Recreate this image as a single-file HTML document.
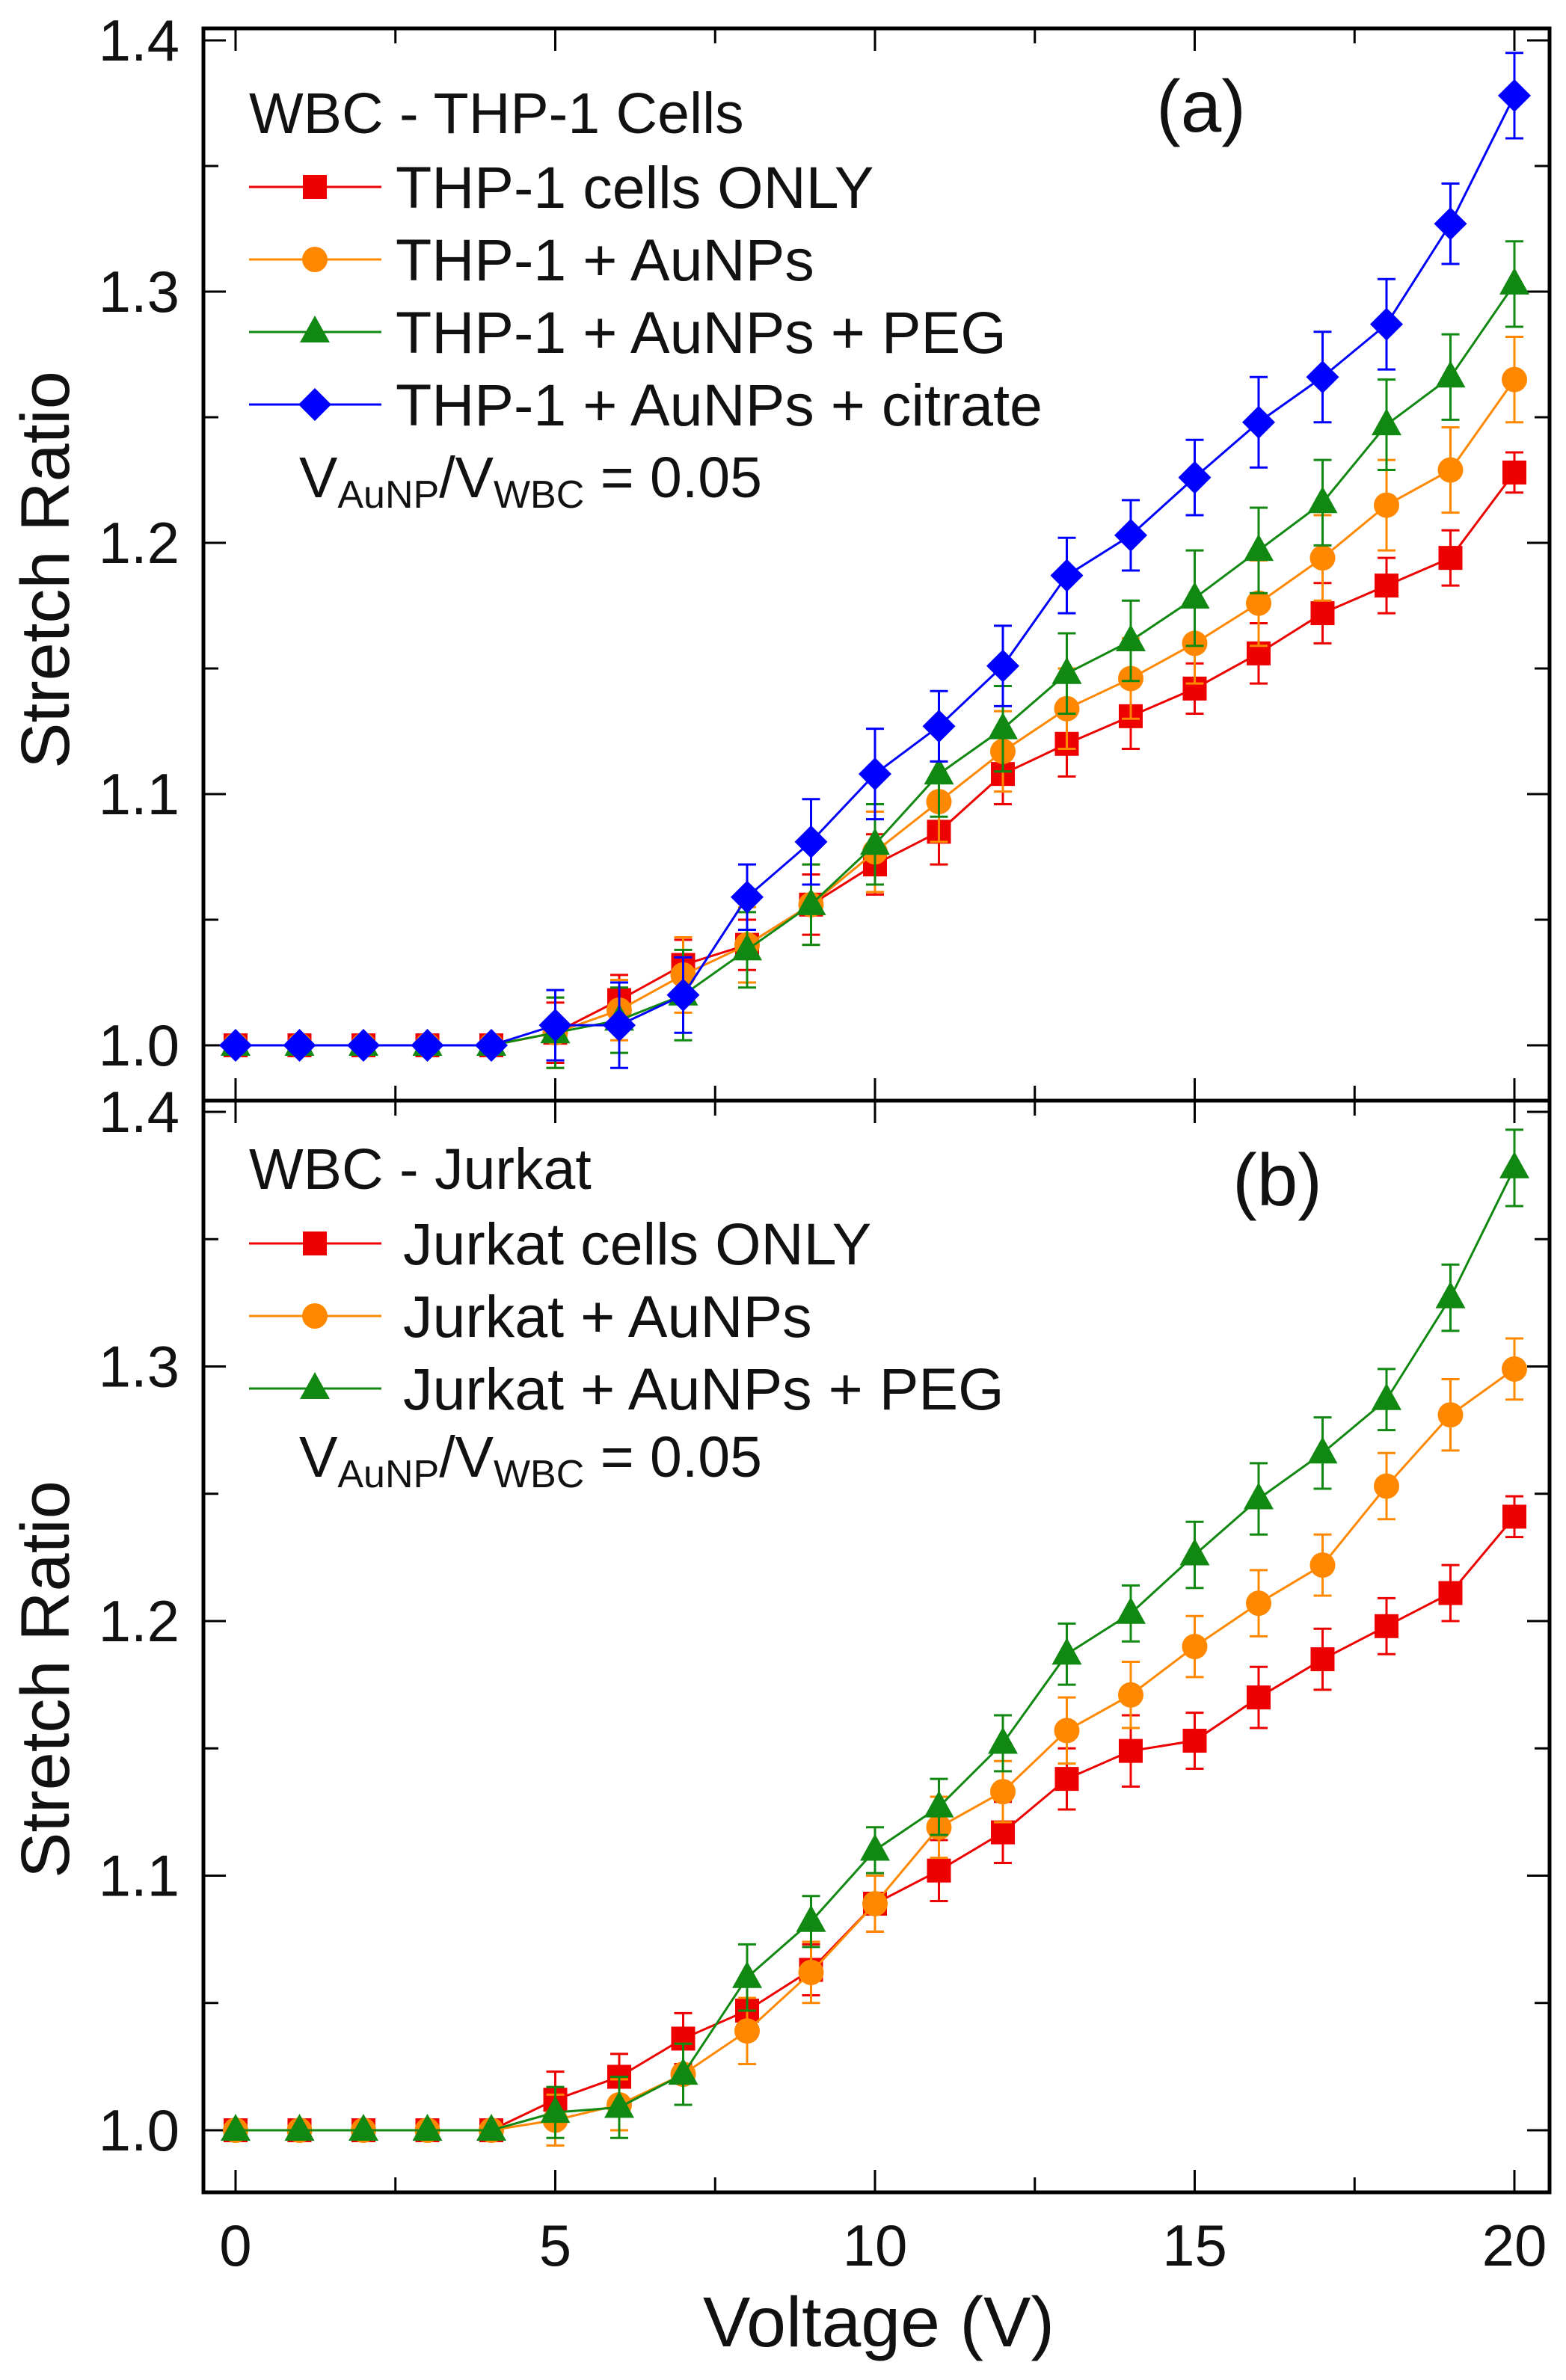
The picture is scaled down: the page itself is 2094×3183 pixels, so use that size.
<!DOCTYPE html>
<html><head><meta charset="utf-8"><style>
html,body{margin:0;padding:0;background:#fff;}
svg{display:block;font-family:"Liberation Sans",Arial,sans-serif;}
</style></head><body>
<svg id="chart" width="2094" height="3183" viewBox="0 0 2094 3183" xmlns="http://www.w3.org/2000/svg"></svg>
<script>
const voltages=[0,1,2,3,4,5,6,7,8,9,10,11,12,13,14,15,16,17,18,19,20];
const xTicks=[0,5,10,15,20];
const yTicks=[1.0,1.1,1.2,1.3,1.4];
const yTickLabels=["1.0","1.1","1.2","1.3","1.4"];
// Panel (a) THP-1
const aRed=[1,1,1,1,1,1.005,1.018,1.032,1.040,1.056,1.072,1.085,1.108,1.120,1.131,1.142,1.156,1.172,1.183,1.194,1.228];
const aRedErr=[0,0,0,0,0,0.012,0.010,0.010,0.010,0.012,0.012,0.013,0.012,0.013,0.013,0.010,0.012,0.012,0.011,0.011,0.008];
const aOrange=[1,1,1,1,1,1.005,1.014,1.028,1.040,1.056,1.077,1.097,1.117,1.134,1.146,1.160,1.176,1.194,1.215,1.229,1.265];
const aOrangeErr=[0,0,0,0,0,0.014,0.012,0.015,0.015,0.016,0.016,0.016,0.016,0.016,0.016,0.016,0.017,0.017,0.018,0.017,0.017];
const aGreen=[1,1,1,1,1,1.005,1.010,1.020,1.038,1.056,1.080,1.108,1.126,1.148,1.161,1.178,1.197,1.216,1.247,1.266,1.303];
const aGreenErr=[0,0,0,0,0,0.014,0.013,0.018,0.015,0.016,0.016,0.017,0.017,0.016,0.016,0.019,0.017,0.017,0.018,0.017,0.017];
const aBlue=[1,1,1,1,1,1.008,1.008,1.020,1.059,1.081,1.108,1.127,1.151,1.187,1.203,1.226,1.248,1.266,1.287,1.327,1.378];
const aBlueErr=[0,0,0,0,0,0.014,0.017,0.015,0.013,0.017,0.018,0.014,0.016,0.015,0.014,0.015,0.018,0.018,0.018,0.016,0.017];
// Panel (b) Jurkat
const bRed=[1,1,1,1,1,1.012,1.021,1.036,1.047,1.063,1.089,1.102,1.117,1.138,1.149,1.153,1.170,1.185,1.198,1.211,1.241];
const bRedErr=[0,0,0,0,0,0.011,0.009,0.010,0.010,0.010,0.011,0.012,0.012,0.012,0.014,0.011,0.012,0.012,0.011,0.011,0.008];
const bOrange=[1,1,1,1,1,1.004,1.010,1.022,1.039,1.062,1.089,1.119,1.133,1.157,1.171,1.190,1.207,1.222,1.253,1.281,1.299];
const bOrangeErr=[0,0,0,0,0,0.010,0.010,0.012,0.013,0.012,0.011,0.012,0.012,0.013,0.013,0.012,0.013,0.012,0.013,0.014,0.012];
const bGreen=[1,1,1,1,1,1.007,1.009,1.022,1.060,1.082,1.110,1.127,1.152,1.187,1.203,1.226,1.248,1.266,1.287,1.327,1.378];
const bGreenErr=[0,0,0,0,0,0.010,0.012,0.012,0.013,0.010,0.009,0.011,0.011,0.012,0.011,0.013,0.014,0.014,0.012,0.013,0.015];

const NS="http://www.w3.org/2000/svg";
const svg=document.getElementById('chart');
function mk(tag,attrs,parent){const e=document.createElementNS(NS,tag);for(const k in attrs)e.setAttribute(k,attrs[k]);(parent||svg).appendChild(e);return e;}
const X0=272,X1=2072;
function xs(v){return 315+(v-0)*(2025-315)/20;}

function panel(p){
  const g=mk('g',{});
  
  
  const ys=v=>p.y1+(v-1.0)*(p.y14-p.y1)/0.4;
  const frame=mk('rect',{x:X0,y:p.top,width:X1-X0,height:p.bot-p.top,fill:'none',stroke:'#000','stroke-width':5},g);
  
  
  for(let v=0;v<=20;v+=2.5){
    const maj=(v%5===0), L=maj?30:20, x=xs(v);
    const t=mk('line',{x1:x,x2:x,y1:p.bot,y2:p.bot-L,stroke:'#000','stroke-width':3},g);
    
    const t2=mk('line',{x1:x,x2:x,y1:p.top,y2:p.top+L,stroke:'#000','stroke-width':3},g);
    
  }
  for(let v=1.0;v<=1.4001;v+=0.05){
    const maj=Math.abs(Math.round(v*10)-v*10)<1e-6, L=maj?30:20, y=ys(v);
    const t=mk('line',{x1:X0,x2:X0+L,y1:y,y2:y,stroke:'#000','stroke-width':3},g);
    
    const t2=mk('line',{x1:X1,x2:X1-L,y1:y,y2:y,stroke:'#000','stroke-width':3},g);
    
  }
  yTicks.forEach((v,i)=>{
    const t=mk('text',{x:240,y:ys(v)+27,'text-anchor':'end','font-size':78,fill:'#111'},g);
    t.textContent=yTickLabels[i];
    
  });
  const yt=mk('text',{x:0,y:0,transform:`translate(92,${p.ytitleY}) rotate(-90)`,'text-anchor':'middle','font-size':92,fill:'#111'},g);
  yt.textContent='Stretch Ratio';
  
  p.series.forEach(s=>{
    const sg=mk('g',{},g);
    
    
    voltages.forEach((v,i)=>{
      const e=s.err[i]; if(!e) return;
      const x=xs(v),ya=ys(s.vals[i]+e),yb=ys(s.vals[i]-e);
      const eb=mk('path',{d:`M${x},${ya}V${yb}M${x-12},${ya}H${x+12}M${x-12},${yb}H${x+12}`,stroke:s.color,'stroke-width':3,fill:'none'},sg);
      
    });
    const pl=mk('polyline',{points:voltages.map((v,i)=>xs(v)+','+ys(s.vals[i])).join(' '),fill:'none',stroke:s.color,'stroke-width':3},sg);
    
    voltages.forEach((v,i)=>{
      const m=marker(s.shape,xs(v),ys(s.vals[i]),s.color,sg);
      
    });
  });
  const lt=mk('text',{x:333,y:p.legTitleY,'font-size':77,fill:'#111'},g);
  lt.textContent=p.legTitle;
  
  p.series.forEach((s,i)=>{
    const y=p.legY0+i*p.legDy;
    const lg=mk('g',{},g);
    
    mk('line',{x1:333,x2:510,y1:y,y2:y,stroke:s.color,'stroke-width':3},lg);
    marker(s.shape,421,y,s.color,lg);
    const t=mk('text',{x:p.legTextX,y:y+28,'font-size':79,fill:'#111'},lg);
    t.textContent=s.label;
  });
  const vt=mk('text',{x:400,y:p.vY,'font-size':77,fill:'#111'},g);
  vt.innerHTML='V<tspan font-size="52" dy="14">AuNP</tspan><tspan dy="-14">/V</tspan><tspan font-size="52" dy="14">WBC</tspan><tspan dy="-14"> = 0.05</tspan>';
  
  const pt=mk('text',{x:p.labX,y:p.labY,'font-size':98,fill:'#111','text-anchor':'middle'},g);
  pt.textContent=p.lab;
  
}
function marker(shape,x,y,c,parent){
  if(shape==='square')return mk('rect',{x:x-16,y:y-16,width:32,height:32,fill:c},parent);
  if(shape==='circle')return mk('circle',{cx:x,cy:y,r:17,fill:c},parent);
  if(shape==='triangle')return mk('polygon',{points:`${x},${y-22} ${x+20},${y+14} ${x-20},${y+14}`,fill:c},parent);
  return mk('polygon',{points:`${x},${y-22} ${x+22},${y} ${x},${y+22} ${x-22},${y}`,fill:c},parent);
}
panel({name:'panel-a-thp1',top:38,bot:1472,y1:1398,y14:54,ytitleY:762,
  legTitle:'WBC - THP-1 Cells',legTitleY:178,legY0:250,legDy:97,legTextX:529,vY:665,lab:'(a)',labX:1606,labY:176,
  series:[
   {key:'thp1-only',label:'THP-1 cells ONLY',color:'#ee0000',shape:'square',vals:aRed,err:aRedErr},
   {key:'thp1-aunps',label:'THP-1 + AuNPs',color:'#ff8800',shape:'circle',vals:aOrange,err:aOrangeErr},
   {key:'thp1-aunps-peg',label:'THP-1 + AuNPs + PEG',color:'#118811',shape:'triangle',vals:aGreen,err:aGreenErr},
   {key:'thp1-aunps-citrate',label:'THP-1 + AuNPs + citrate',color:'#0000ff',shape:'diamond',vals:aBlue,err:aBlueErr}]});
panel({name:'panel-b-jurkat',top:1472,bot:2932,y1:2849,y14:1487,ytitleY:2246,
  legTitle:'WBC - Jurkat',legTitleY:1590,legY0:1663,legDy:97,legTextX:539,vY:1975,lab:'(b)',labX:1708,labY:1612,
  series:[
   {key:'jurkat-only',label:'Jurkat cells ONLY',color:'#ee0000',shape:'square',vals:bRed,err:bRedErr},
   {key:'jurkat-aunps',label:'Jurkat + AuNPs',color:'#ff8800',shape:'circle',vals:bOrange,err:bOrangeErr},
   {key:'jurkat-aunps-peg',label:'Jurkat + AuNPs + PEG',color:'#118811',shape:'triangle',vals:bGreen,err:bGreenErr}]});
xTicks.forEach(v=>{
  const t=mk('text',{x:xs(v),y:3030,'text-anchor':'middle','font-size':78,fill:'#111'});
  t.textContent=String(v);
  
});
const xt=mk('text',{x:1175,y:3138,'text-anchor':'middle','font-size':95,fill:'#111'});
xt.textContent='Voltage (V)';


</script>
</body></html>
